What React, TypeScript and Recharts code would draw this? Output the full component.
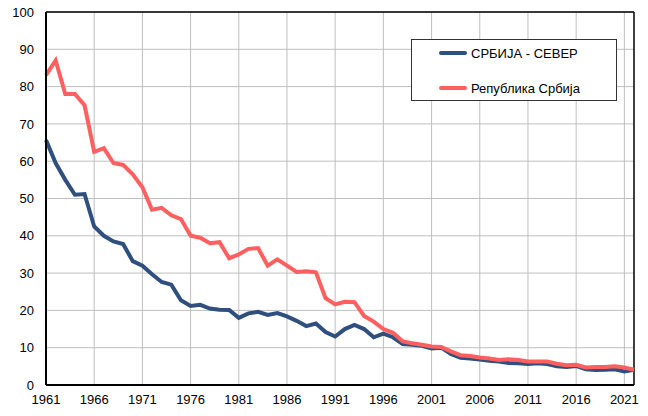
import React from "react";
import { LineChart, Line, XAxis, YAxis, CartesianGrid, ReferenceLine } from "recharts";

const years: number[] = [];
for (let y = 1961; y <= 2022; y++) years.push(y);

const sever = [
  65.7, 59.5, 55, 51, 51.2, 42.5, 40, 38.5, 37.8, 33.2,
  32, 29.7, 27.6, 26.9, 22.7, 21.2, 21.5, 20.5, 20.2, 20.1,
  18, 19.2, 19.6, 18.8, 19.3, 18.4, 17.2, 15.8, 16.5, 14.2,
  13, 15, 16.1, 15, 12.8, 13.8, 12.8, 11, 10.8, 10.5,
  9.8, 10, 8.3, 7.3, 7.1, 6.8, 6.5, 6.3, 5.9, 5.8,
  5.6, 5.8, 5.6, 5.0, 4.8, 5.1, 4.2, 4.0, 4.1, 4.2,
  3.6, 4.1,
];

const srbija = [
  83.1, 87, 78, 78, 75, 62.5, 63.5, 59.5, 59, 56.5,
  53, 47, 47.5, 45.5, 44.5, 40, 39.5, 38, 38.3, 34,
  35, 36.5, 36.7, 32, 33.7, 32, 30.3, 30.5, 30.2, 23.3,
  21.6, 22.3, 22.2, 18.5, 17, 15, 14, 11.7, 11.2, 10.8,
  10.3, 10.2, 9, 8, 7.8, 7.4, 7.1, 6.7, 6.9, 6.7,
  6.3, 6.3, 6.3, 5.7, 5.3, 5.4, 4.7, 4.8, 4.8, 5,
  4.7, 4.1,
];

const xTicks = [1961, 1966, 1971, 1976, 1981, 1986, 1991, 1996, 2001, 2006, 2011, 2016, 2021];
const yTicks = [0, 10, 20, 30, 40, 50, 60, 70, 80, 90, 100];

const seriesNames = ["СРБИЈА - СЕВЕР", "Република Србија"];
const colors = ["#2F4F7F", "#FF5F5F"];

const data = years.map((year, i) => ({ year, sever: sever[i], srbija: srbija[i] }));

const font = "'Liberation Sans', Arial, sans-serif";

const LegendBox = () => (
  <div
    style={{
      position: "absolute",
      left: 411,
      top: 39,
      width: 206,
      height: 62,
      border: "1px solid #333",
      background: "#fff",
      boxSizing: "border-box",
      fontFamily: font,
      fontSize: 13,
      color: "#000",
    }}
  >
    {seriesNames.map((n, i) => (
      <div
        key={n}
        style={{
          position: "absolute",
          left: 27,
          top: i === 0 ? 5 : 40,
          display: "flex",
          alignItems: "center",
          height: 16,
          whiteSpace: "nowrap",
        }}
      >
        <div style={{ width: 28, height: 4, borderRadius: 2, background: colors[i], marginRight: 4 }} />
        <span>{n}</span>
      </div>
    ))}
  </div>
);

export default function App() {
  return (
    <div style={{ position: "absolute", left: 0, top: 0, width: 648, height: 416, background: "#fff" }}>
      <LineChart
        width={648}
        height={416}
        data={data}
        margin={{ top: 12, right: 14, left: 0, bottom: 0 }}
      >
        <CartesianGrid stroke="#BFBFBF" strokeWidth={1} horizontalValues={yTicks} verticalValues={xTicks} />
        <XAxis
          dataKey="year"
          type="number"
          domain={[1961, 2022]}
          ticks={xTicks}
          interval={0}
          height={31}
          tickLine={false}
          tickSize={6}
          tickMargin={4}
          axisLine={{ stroke: "#000", strokeWidth: 2 }}
          tick={{ fill: "#000", fontSize: 13, fontFamily: font }}
        />
        <YAxis
          type="number"
          domain={[0, 100]}
          ticks={yTicks}
          interval={0}
          width={46}
          tickLine={false}
          tickSize={6}
          tickMargin={6}
          axisLine={{ stroke: "#000", strokeWidth: 2 }}
          tick={{ fill: "#000", fontSize: 13, fontFamily: font }}
        />
        <ReferenceLine y={100} stroke="#000" strokeWidth={1.5} />
        <ReferenceLine x={2022} stroke="#000" strokeWidth={1.5} />
        <Line
          type="linear"
          dataKey="sever"
          name={seriesNames[0]}
          stroke={colors[0]}
          strokeWidth={4}
          dot={false}
          isAnimationActive={false}
        />
        <Line
          type="linear"
          dataKey="srbija"
          name={seriesNames[1]}
          stroke={colors[1]}
          strokeWidth={4}
          dot={false}
          isAnimationActive={false}
        />
      </LineChart>
      <LegendBox />
    </div>
  );
}
